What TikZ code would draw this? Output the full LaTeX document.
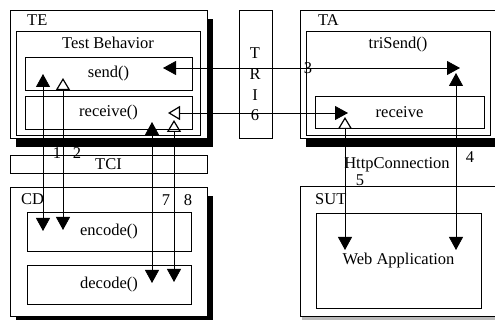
\documentclass[tikz,border=0pt]{standalone}
\usepackage{fontspec}
\setmainfont{Liberation Serif}
\usetikzlibrary{arrows.meta,shadows}

\tikzset{
  box/.style={draw, line width=0.8pt, fill=white, inner sep=0pt},
  blackshadow/.style={drop shadow={shadow xshift=6pt, shadow yshift=-9pt, fill=black, opacity=1}},
  greyshadow/.style={drop shadow={shadow xshift=2pt, shadow yshift=-4pt, fill=gray!55, opacity=1}},
  lbl/.style={inner sep=0pt},
  link/.style={line width=0.8pt},
  both/.style={arrows={Triangle[width=14pt,length=13pt]-Triangle[width=14pt,length=13pt]}},
  openback/.style={arrows={Triangle[open,width=14pt,length=12pt,line width=1.2pt]-Triangle[width=14pt,length=13pt]}}
}

\begin{document}
\begin{tikzpicture}[x=1pt,y=-1pt,font=\fontsize{16.5}{18}\selectfont]
  \clip (0,0) rectangle (495,320);
  \fill[white] (0,0) rectangle (495,320);

  % tester side
  \node[box,blackshadow,minimum width=197pt,minimum height=128pt] (te) at (108.5,74) {};
  \node[box,minimum width=184pt,minimum height=104pt] (tb) at (108,83) {};
  \node[box,minimum width=167pt,minimum height=33pt] (send) at (108.5,73.5) {send()};
  \node[box,minimum width=167pt,minimum height=33pt] (recv) at (108.5,112.5) {receive()};
  \node[lbl,anchor=west] (telbl) at (27,20) {TE};
  \node[lbl] (tblbl) at (108,43) {Test Behavior};

  \node[box,minimum width=197pt,minimum height=18pt] (tci) at (108.5,164) {TCI};

  \node[box,blackshadow,minimum width=197pt,minimum height=129pt] (cd) at (108.5,251.5) {};
  \node[box,minimum width=164pt,minimum height=39pt] (enc) at (109,231.5) {encode()};
  \node[box,minimum width=164pt,minimum height=39pt] (dec) at (109,284.5) {decode()};
  \node[lbl,anchor=west] (cdlbl) at (21,199) {CD};

  % TRI column
  \node[box,minimum width=33pt,minimum height=128pt] (tri) at (255.5,74) {};
  \node[lbl] (triT) at (255,53) {T};
  \node[lbl] (triR) at (255,74) {R};
  \node[lbl] (triI) at (255,95) {I};

  % adapter side
  \node[box,blackshadow,minimum width=202pt,minimum height=128pt] (ta) at (401,74) {};
  \node[box,minimum width=184pt,minimum height=104pt] (trisend) at (398,83) {};
  \node[box,minimum width=169pt,minimum height=32pt] (recvta) at (399.5,112) {receive};
  \node[lbl,anchor=west] (talbl) at (318,20) {TA};
  \node[lbl] (tslbl) at (398,45) {triSend()};

  \node[box,greyshadow,minimum width=202pt,minimum height=130pt] (sut) at (401,251) {};
  \node[box,minimum width=165pt,minimum height=95pt] (web) at (398.5,260.5) {Web Application};
  \node[lbl,anchor=west] (sutlbl) at (315,199) {SUT};

  % arrow ends
  \coordinate (p1t) at (43,74);   \coordinate (p1b) at (43,231);
  \coordinate (p2t) at (63,78);   \coordinate (p2b) at (63,230);
  \coordinate (p7t) at (152,122); \coordinate (p7b) at (152,283);
  \coordinate (p8t) at (174,120); \coordinate (p8b) at (174,282);
  \coordinate (p3l) at (163,68);  \coordinate (p3r) at (460,68);
  \coordinate (p4t) at (456,73);  \coordinate (p4b) at (456,250);
  \coordinate (p6l) at (168,113); \coordinate (p6r) at (348,113);
  \coordinate (p5t) at (345,117); \coordinate (p5b) at (345,250);

  \draw[link,both] (p1t) -- (p1b);
  \draw[link,openback] (p2t) -- (p2b);
  \draw[link,both] (p7t) -- (p7b);
  \draw[link,openback] (p8t) -- (p8b);
  \draw[link,both] (p3l) -- (p3r);
  \draw[link,both] (p4t) -- (p4b);
  \draw[link,openback] (p6l) -- (p6r);
  \draw[link,openback] (p5t) -- (p5b);

  % numbers
  \node[lbl] (n1) at (57,153) {1};
  \node[lbl] (n2) at (77,153) {2};
  \node[lbl] (n3) at (308,68) {3};
  \node[lbl] (n4) at (470,157) {4};
  \node[lbl] (n5) at (360,180) {5};
  \node[lbl] (n6) at (255,115) {6};
  \node[lbl] (n7) at (166,200) {7};
  \node[lbl] (n8) at (188,200) {8};
  \node[lbl] (http) at (397,165) {HttpConnection};
\end{tikzpicture}
\end{document}
